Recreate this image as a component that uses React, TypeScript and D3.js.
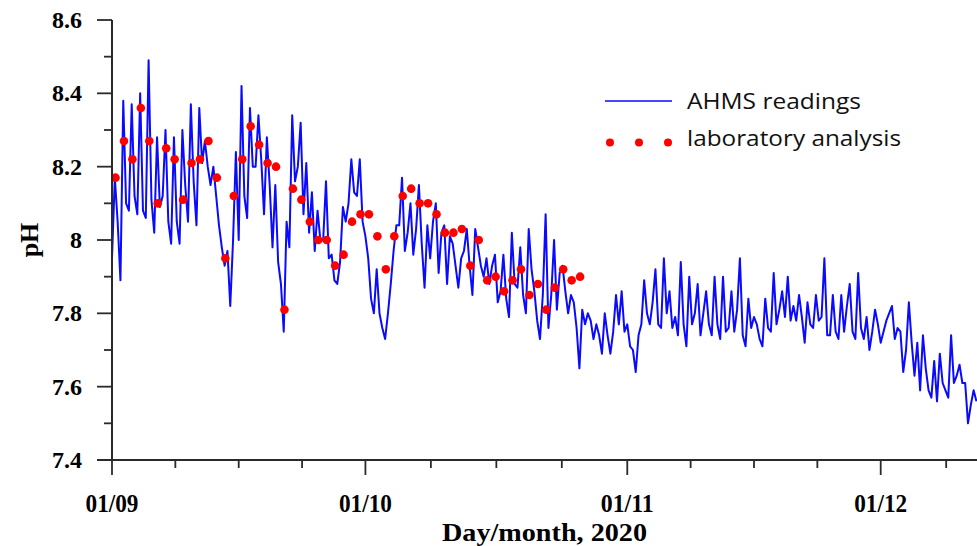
import React, { useEffect, useRef } from 'react';
import * as d3 from 'd3';

// AHMS readings: three readings per day (00h, 08h, 16h) from 1 Sep 2020
const ahmsValues = [
  7.95, 8.17, 8.05, 7.89, 8.38, 8.10, 8.08, 8.37, 8.12, 8.07, 8.40, 8.08,
  8.06, 8.49, 8.11, 8.02, 8.28, 8.09, 8.12, 8.30, 8.05, 7.99, 8.28, 8.05,
  7.99, 8.30, 8.15, 8.05, 8.37, 8.16, 8.04, 8.36, 8.21, 8.27, 8.20, 8.15,
  8.20, 8.12, 8.04, 7.98, 7.93, 7.97, 7.82, 8.00, 8.24, 8.00, 8.42, 8.12,
  8.06, 8.36, 8.20, 8.20, 8.34, 8.22, 8.07, 8.28, 8.15, 7.98, 8.15, 7.94,
  7.88, 7.75, 8.05, 7.98, 8.34, 8.16, 8.20, 8.32, 8.07, 8.21, 8.02, 8.13,
  7.97, 8.08, 8.00, 8.00, 8.16, 7.95, 7.96, 7.89, 7.88, 7.94, 8.09, 8.05,
  8.10, 8.22, 8.13, 8.12, 8.22, 8.05,
  // October
  8.01, 7.95, 7.84, 7.80, 7.92, 7.80, 7.76, 7.73, 7.80, 7.88, 7.97, 8.04,
  8.04, 8.17, 7.97, 8.02, 8.10, 7.96, 8.03, 8.15, 7.99, 7.87, 8.04, 7.95,
  8.05, 8.10, 7.91, 8.02, 8.04, 7.88, 8.01, 7.99, 7.93, 7.87, 7.95, 7.97,
  8.03, 7.93, 7.85, 8.03, 7.98, 7.93, 7.90, 7.95, 7.88, 7.93, 7.96, 7.83,
  7.86, 7.96, 7.84, 7.79, 8.02, 7.88, 7.87, 7.98, 7.85, 7.80, 8.03, 7.92,
  7.86, 7.78, 7.73, 7.85, 8.07, 7.76, 7.85, 8.00, 7.81, 7.91, 7.93, 7.86,
  7.80, 7.85, 7.83, 7.76, 7.65, 7.81, 7.77, 7.80, 7.78, 7.73, 7.77, 7.74,
  7.69, 7.80, 7.74, 7.69, 7.75, 7.85, 7.77, 7.86, 7.75,
  // November
  7.77, 7.71, 7.70, 7.64, 7.74, 7.77, 7.89, 7.80, 7.77, 7.83, 7.92, 7.77,
  7.76, 7.95, 7.80, 7.86, 7.76, 7.79, 7.74, 7.94, 7.77, 7.71, 7.90, 7.77,
  7.80, 7.88, 7.74, 7.80, 7.86, 7.77, 7.74, 7.90, 7.77, 7.73, 7.90, 7.75,
  7.76, 7.86, 7.75, 7.81, 7.95, 7.74, 7.71, 7.84, 7.76, 7.79, 7.77, 7.73,
  7.71, 7.84, 7.76, 7.75, 7.91, 7.77, 7.81, 7.86, 7.79, 7.90, 7.78, 7.82,
  7.78, 7.85, 7.79, 7.72, 7.83, 7.77, 7.76, 7.85, 7.78, 7.79, 7.95, 7.74,
  7.74, 7.85, 7.75, 7.73, 7.85, 7.75, 7.82, 7.88, 7.75, 7.73, 7.91, 7.76,
  7.73, 7.79, 7.70, 7.75, 7.81, 7.77,
  // December
  7.72, 7.75, 7.78, 7.80, 7.82, 7.73, 7.76, 7.75, 7.64, 7.70, 7.83, 7.72,
  7.63, 7.72, 7.59, 7.74, 7.65, 7.59, 7.57, 7.67, 7.56, 7.69, 7.61, 7.59,
  7.57, 7.74, 7.61, 7.63, 7.66, 7.61, 7.61, 7.50, 7.55, 7.59, 7.56,
];

// laboratory analysis: one sample per day from 1 Sep 2020
const labValues = [
  8.17, 8.27, 8.22, 8.36, 8.27, 8.10, 8.25, 8.22, 8.11, 8.21, 8.22, 8.27,
  8.17, 7.95, 8.12, 8.22, 8.31, 8.26, 8.21, 8.20, 7.81, 8.14, 8.11, 8.05,
  8.00, 8.00, 7.93, 7.96, 8.05, 8.07, 8.07, 8.01, 7.92, 8.01, 8.12, 8.14,
  8.10, 8.10, 8.07, 8.02, 8.02, 8.03, 7.93, 8.00, 7.89, 7.90, 7.86, 7.89,
  7.92, 7.85, 7.88, 7.81, 7.87, 7.92, 7.89, 7.90,
];

const yTicks = [7.4, 7.6, 7.8, 8, 8.2, 8.4, 8.6];
const monthTicks = ['2020-09-01', '2020-10-01', '2020-11-01', '2020-12-01'];
const legendLabels = ['AHMS readings', 'laboratory analysis'];

const HOUR = 3600 * 1000;
const DAY = 24 * HOUR;
const start = new Date(2020, 8, 1).getTime();

const App = () => {
  const svgRef = useRef(null);

  useEffect(() => {
    document.body.style.margin = '0';
    const svg = d3.select(svgRef.current);
    svg.selectAll('*').remove();

    const width = 977;
    const height = 546;
    const margin = { top: 20, right: 0, bottom: 86, left: 112 };
    const ink = '#2a2a2a';

    const x = d3.scaleTime()
      .domain([new Date(start), new Date(2020, 11, 12, 9, 36)])
      .range([margin.left, width - margin.right]);
    const y = d3.scaleLinear()
      .domain([7.4, 8.6])
      .range([height - margin.bottom, margin.top]);

    const ahms = ahmsValues.map((v, i) => ({
      t: new Date(start + Math.floor(i / 3) * DAY + (i % 3) * 8 * HOUR),
      v,
    }));
    const lab = labValues.map((v, i) => ({ t: new Date(start + i * DAY + 10 * HOUR), v }));

    const serif = '"Liberation Serif", "Times New Roman", serif';
    const sans = '"Open Sans", "Noto Sans", sans-serif';

    // blue line
    svg.append('path')
      .datum(ahms)
      .attr('fill', 'none')
      .attr('stroke', '#0a0aff')
      .attr('stroke-width', 2)
      .attr('stroke-linejoin', 'round')
      .attr('d', d3.line().x(d => x(d.t)).y(d => y(d.v)));

    // red dots
    svg.append('g')
      .selectAll('circle')
      .data(lab)
      .join('circle')
      .attr('cx', d => x(d.t))
      .attr('cy', d => y(d.v))
      .attr('r', 4.3)
      .attr('fill', '#ff0000');

    // y axis
    const minorY = d3.range(7.5, 8.6, 0.2);
    const yAxis = svg.append('g').attr('transform', `translate(${margin.left},0)`);
    yAxis.append('line')
      .attr('y1', y(7.4)).attr('y2', y(8.6))
      .attr('stroke', ink).attr('stroke-width', 2);
    yAxis.selectAll('.major')
      .data(yTicks)
      .join('line')
      .attr('x1', -15).attr('x2', 0)
      .attr('y1', d => y(d)).attr('y2', d => y(d))
      .attr('stroke', ink).attr('stroke-width', 1.8);
    yAxis.selectAll('.minor')
      .data(minorY)
      .join('line')
      .attr('x1', -8).attr('x2', 0)
      .attr('y1', d => y(d)).attr('y2', d => y(d))
      .attr('stroke', ink).attr('stroke-width', 1.8);
    yAxis.selectAll('text')
      .data(yTicks)
      .join('text')
      .attr('x', -30)
      .attr('y', d => y(d))
      .attr('dy', '0.33em')
      .attr('text-anchor', 'end')
      .style('font-family', serif)
      .style('font-weight', 'bold')
      .style('font-size', '24px')
      .text(d => (d === 8 ? '8' : d.toFixed(1)));

    // x axis
    const months = monthTicks.map(s => new Date(s + 'T00:00:00'));
    const monthEnds = [...months.slice(1), new Date(2021, 0, 1)];
    const minorX = [];
    months.forEach((m, i) => {
      const len = monthEnds[i].getTime() - m.getTime();
      [1, 2, 3].forEach(k => {
        const t = new Date(m.getTime() + (len * k) / 4);
        if (x(t) <= width) minorX.push(t);
      });
    });
    const xAxis = svg.append('g').attr('transform', `translate(0,${y(7.4)})`);
    xAxis.append('line')
      .attr('x1', margin.left - 15).attr('x2', width)
      .attr('stroke', ink).attr('stroke-width', 2);
    xAxis.selectAll('.major')
      .data(months)
      .join('line')
      .attr('x1', d => x(d)).attr('x2', d => x(d))
      .attr('y1', 0).attr('y2', 15)
      .attr('stroke', ink).attr('stroke-width', 1.8);
    xAxis.selectAll('.minor')
      .data(minorX)
      .join('line')
      .attr('x1', d => x(d)).attr('x2', d => x(d))
      .attr('y1', 0).attr('y2', 8)
      .attr('stroke', ink).attr('stroke-width', 1.8);
    xAxis.selectAll('text')
      .data(months)
      .join('text')
      .attr('x', d => x(d))
      .attr('y', 52)
      .attr('text-anchor', 'middle')
      .attr('textLength', 53)
      .attr('lengthAdjust', 'spacingAndGlyphs')
      .style('font-family', serif)
      .style('font-weight', 'bold')
      .style('font-size', '26px')
      .text(d => d3.timeFormat('%d/%m')(d));

    svg.append('text')
      .attr('x', (margin.left + width) / 2)
      .attr('y', 541)
      .attr('text-anchor', 'middle')
      .attr('textLength', 205)
      .attr('lengthAdjust', 'spacingAndGlyphs')
      .style('font-family', serif)
      .style('font-weight', 'bold')
      .style('font-size', '26px')
      .text('Day/month, 2020');

    svg.append('text')
      .attr('transform', `translate(38,${y(8)}) rotate(-90)`)
      .attr('text-anchor', 'middle')
      .style('font-family', serif)
      .style('font-weight', 'bold')
      .style('font-size', '26px')
      .text('pH');

    // legend
    const lg = svg.append('g');
    lg.append('line')
      .attr('x1', 605).attr('x2', 672)
      .attr('y1', 101).attr('y2', 101)
      .attr('stroke', '#0a0aff').attr('stroke-width', 1.6);
    lg.selectAll('circle')
      .data([610, 639, 668])
      .join('circle')
      .attr('cx', d => d).attr('cy', 142.5).attr('r', 4)
      .attr('fill', '#ff0000');
    lg.selectAll('text')
      .data(legendLabels)
      .join('text')
      .attr('x', 687)
      .attr('y', (d, i) => (i === 0 ? 108.5 : 146))
      .attr('textLength', (d, i) => (i === 0 ? 174 : 214))
      .attr('lengthAdjust', 'spacingAndGlyphs')
      .style('font-family', sans)
      .style('font-size', '22px')
      .style('fill', '#111')
      .text(d => d);
  }, []);

  return <svg ref={svgRef} width={977} height={546} style={{ display: 'block', background: '#fff' }} />;
};

export default App;
